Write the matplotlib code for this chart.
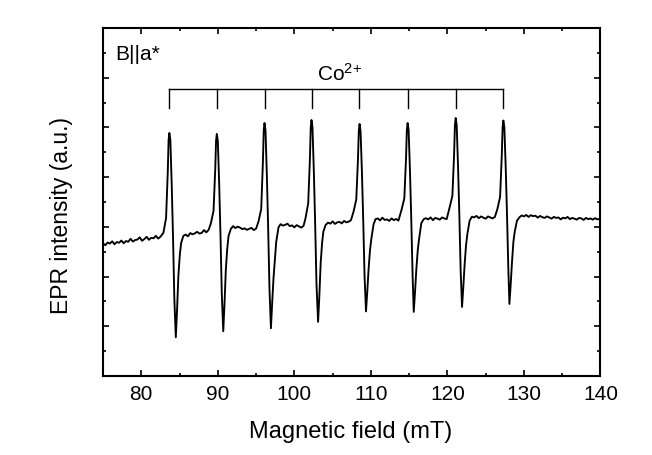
import matplotlib
matplotlib.use("Agg")
import matplotlib.pyplot as plt
from matplotlib.ticker import MultipleLocator, NullFormatter

plt.rcParams["font.family"] = ["Liberation Sans", "DejaVu Sans"]
plt.rcParams["mathtext.fontset"] = "custom"
plt.rcParams["mathtext.rm"] = "Liberation Sans"
plt.rcParams["mathtext.it"] = "Liberation Sans:italic"

# EPR spectrum (field in mT, intensity in a.u.)
lead_in = [(75.0, -0.66), (75.3, -0.74), (75.6, -0.63), (75.9, -0.67), (76.2, -0.58), (76.5, -0.70),
           (76.8, -0.61), (77.1, -0.64), (77.4, -0.55), (77.7, -0.66), (78.0, -0.57), (78.3, -0.60),
           (78.6, -0.48), (78.9, -0.59), (79.2, -0.53), (79.5, -0.51), (79.8, -0.42), (80.1, -0.56),
           (80.4, -0.49), (80.7, -0.40), (81.0, -0.52), (81.3, -0.44), (81.6, -0.46), (81.9, -0.36),
           (82.2, -0.47), (82.5, -0.40)]

line_1 = [(82.89, -0.24), (83.24, 0.36), (83.46, 2.20), (83.57, 3.50), (83.67, 3.78), (83.80, 3.50),
          (83.98, 1.65), (84.15, -0.45), (84.32, -2.90), (84.51, -4.44), (84.68, -3.30), (84.85, -1.95),
          (85.03, -1.15), (85.20, -0.66), (85.50, -0.36),
          (85.8, -0.31), (86.1, -0.38), (86.4, -0.25), (86.7, -0.30), (87.0, -0.26), (87.3, -0.20),
          (87.6, -0.27), (87.9, -0.24), (88.2, -0.13), (88.5, -0.22), (88.8, -0.12)]

line_2 = [(89.09, 0.14), (89.44, 0.64), (89.66, 2.30), (89.77, 3.46), (89.87, 3.74), (90.00, 3.46),
          (90.18, 1.70), (90.35, -0.35), (90.52, -2.70), (90.71, -4.20), (90.88, -3.05), (91.05, -1.70),
          (91.23, -0.88), (91.40, -0.37), (91.70, -0.08),
          (92.0, 0.03), (92.3, -0.05), (92.6, 0.01), (92.9, -0.03), (93.2, -0.09), (93.5, -0.06),
          (93.8, -0.12), (94.1, -0.08), (94.4, -0.04), (94.7, -0.13), (95.0, -0.07)]

line_3 = [(95.32, 0.22), (95.67, 0.72), (95.89, 2.60), (96.00, 3.90), (96.10, 4.18), (96.23, 3.90),
          (96.41, 2.05), (96.58, -0.08), (96.75, -2.50), (96.94, -4.08), (97.11, -3.00), (97.28, -2.05),
          (97.46, -1.30), (97.63, -0.60), (97.93, -0.02),
          (98.2, 0.11), (98.5, 0.05), (98.8, 0.08), (99.1, 0.13), (99.4, 0.03), (99.7, 0.06),
          (100.0, -0.02), (100.3, 0.07), (100.6, 0.02), (100.9, -0.03), (101.2, 0.04)]

line_4 = [(101.46, 0.35), (101.81, 0.95), (102.03, 2.70), (102.14, 4.00), (102.24, 4.30), (102.37, 4.00),
          (102.55, 2.20), (102.72, 0.10), (102.89, -2.28), (103.10, -3.82), (103.27, -2.75), (103.44, -1.45),
          (103.62, -0.66), (103.79, -0.19), (104.09, 0.08),
          (104.4, 0.17), (104.7, 0.13), (105.0, 0.22), (105.3, 0.12), (105.6, 0.18), (105.9, 0.20),
          (106.2, 0.14), (106.5, 0.24), (106.8, 0.18), (107.1, 0.21), (107.4, 0.27)]

line_5 = [(107.74, 0.62), (108.09, 1.10), (108.31, 2.70), (108.42, 3.85), (108.52, 4.14), (108.65, 3.85),
          (108.83, 2.20), (109.00, 0.25), (109.17, -1.95), (109.36, -3.40), (109.53, -2.60), (109.70, -1.70),
          (109.88, -0.95), (110.05, -0.50), (110.35, 0.10),
          (110.6, 0.31), (110.9, 0.34), (111.2, 0.26), (111.5, 0.37), (111.8, 0.28), (112.1, 0.30),
          (112.4, 0.24), (112.7, 0.34), (113.0, 0.27), (113.3, 0.32), (113.6, 0.25)]

line_6 = [(114.02, 0.70), (114.37, 1.15), (114.59, 2.75), (114.70, 3.90), (114.80, 4.18), (114.93, 3.90),
          (115.11, 2.22), (115.28, 0.25), (115.45, -1.96), (115.60, -3.42), (115.77, -2.60), (115.94, -1.70),
          (116.12, -0.95), (116.29, -0.50), (116.59, 0.15),
          (116.9, 0.31), (117.2, 0.35), (117.5, 0.30), (117.8, 0.38), (118.1, 0.27), (118.4, 0.36),
          (118.7, 0.33), (119.0, 0.29), (119.3, 0.38), (119.6, 0.34), (119.9, 0.31)]

line_7 = [(120.30, 0.80), (120.65, 1.25), (120.87, 2.90), (120.98, 4.10), (121.08, 4.38), (121.21, 4.10),
          (121.39, 2.40), (121.56, 0.45), (121.73, -1.78), (121.91, -3.22), (122.08, -2.40), (122.25, -1.50),
          (122.43, -0.75), (122.60, -0.30), (122.90, 0.25),
          (123.2, 0.41), (123.5, 0.38), (123.8, 0.44), (124.1, 0.35), (124.4, 0.42), (124.7, 0.37),
          (125.0, 0.33), (125.3, 0.42), (125.6, 0.38), (125.9, 0.34), (126.2, 0.40)]

line_8 = [(126.53, 0.72), (126.88, 1.20), (127.10, 2.85), (127.21, 4.00), (127.31, 4.28), (127.44, 4.00),
          (127.62, 2.35), (127.79, 0.45), (127.96, -1.70), (128.10, -3.10), (128.27, -2.30), (128.44, -1.40),
          (128.62, -0.60), (128.79, -0.20), (129.09, 0.25)]

tail = [(129.4, 0.38), (129.7, 0.46), (130.0, 0.42), (130.3, 0.48), (130.6, 0.40), (130.9, 0.47),
        (131.2, 0.43), (131.5, 0.45), (131.8, 0.37), (132.1, 0.44), (132.4, 0.39), (132.7, 0.36),
        (133.0, 0.42), (133.3, 0.38), (133.6, 0.33), (133.9, 0.40), (134.2, 0.36), (134.5, 0.38),
        (134.8, 0.30), (135.1, 0.37), (135.4, 0.34), (135.7, 0.40), (136.0, 0.31), (136.3, 0.36),
        (136.6, 0.33), (136.9, 0.29), (137.2, 0.36), (137.5, 0.34), (137.8, 0.28), (138.1, 0.36),
        (138.4, 0.31), (138.7, 0.34), (139.0, 0.29), (139.3, 0.35), (139.6, 0.30), (139.9, 0.33),
        (140.0, 0.31)]

# Co2+ hyperfine line positions (comb)
co_lines = [83.65, 89.9, 96.15, 102.3, 108.5, 114.8, 121.1, 127.3]
comb_top = 5.55
comb_bottom = 4.79

x_ticks = [80, 90, 100, 110, 120, 130, 140]

pts = lead_in + line_1 + line_2 + line_3 + line_4 + line_5 + line_6 + line_7 + line_8 + tail
field = [p[0] for p in pts]
epr = [p[1] for p in pts]

fig = plt.figure(figsize=(6.52, 4.56), dpi=100)
ax = fig.add_axes([0.158, 0.1732, 0.763, 0.7632])

ax.plot(field, epr, color="black", linewidth=1.35)

# comb marking the eight Co2+ lines
ax.plot([co_lines[0], co_lines[-1]], [comb_top, comb_top], color="black", linewidth=1.0)
for pos in co_lines:
    ax.plot([pos, pos], [comb_top, comb_bottom], color="black", linewidth=1.0)
ax.text((co_lines[0] + co_lines[-1]) / 2 + 0.4, 5.91, r"Co$^{2{+}}$", fontsize=15,
        ha="center", va="baseline")

ax.text(0.0255, 0.928, "B||a*", transform=ax.transAxes, fontsize=15, ha="left", va="center")

ax.set_xlim(75, 140)
ax.set_ylim(-6, 8)
ax.set_xticks(x_ticks)
ax.xaxis.set_minor_locator(MultipleLocator(5))
ax.yaxis.set_major_locator(MultipleLocator(2))
ax.yaxis.set_minor_locator(MultipleLocator(1))
ax.yaxis.set_major_formatter(NullFormatter())

ax.tick_params(which="both", direction="in", top=True, right=True, width=1.2)
ax.tick_params(which="major", length=4.2, labelsize=15, pad=6)
ax.tick_params(which="minor", length=2.4)
for sp in ax.spines.values():
    sp.set_linewidth(1.5)

ax.set_xlabel("Magnetic field (mT)", fontsize=17, va="baseline")
ax.xaxis.set_label_coords(0.497, -0.175)
ax.set_ylabel("EPR intensity (a.u.)", fontsize=16.5, va="center")
ax.yaxis.set_label_coords(-0.084, 0.463)

fig.savefig("out.png", dpi=100, facecolor="white")
